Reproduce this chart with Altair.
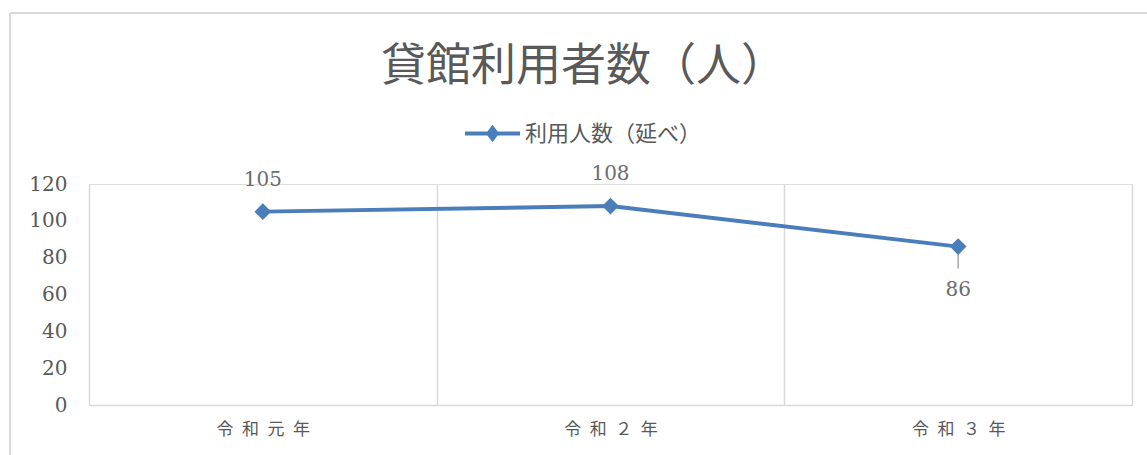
import altair as alt
import pandas as pd

categories = ["令和元年", "令和２年", "令和３年"]
values = [105, 108, 86]
series_name = "利用人数（延べ）"
title_text = "貸館利用者数（人）"
y_ticks = [0, 20, 40, 60, 80, 100, 120]

df = pd.DataFrame({"category": categories, "value": values, "series": [series_name] * 3})

W, H = 1043, 221
BLUE = "#4A7EBB"
GRAY = "#595959"
LINE = "#d9d9d9"

base = alt.Chart(df)

x_enc = alt.X(
    "category:N",
    sort=categories,
    scale=alt.Scale(type="band", paddingInner=0, paddingOuter=0),
    axis=alt.Axis(
        title=None, labelAngle=0, ticks=False, grid=True, tickBand="extent",
        gridColor=LINE, gridWidth=1.5, domainColor=LINE, domainWidth=1.5,
        labelFont="Noto Sans CJK JP", labelFontSize=17, labelColor=GRAY,
        labelPadding=16, labelExpr="join(split(datum.label, ''), '\u2002')",
    ),
)
y_enc = alt.Y(
    "value:Q",
    scale=alt.Scale(domain=[0, 120]),
    axis=alt.Axis(
        title=None, values=y_ticks, domain=False, ticks=False, grid=False,
        labelFont="DejaVu Serif", labelFontSize=20, labelColor=GRAY,
        labelPadding=22, labelOverlap=False,
    ),
)
color_enc = alt.Color(
    "series:N",
    scale=alt.Scale(range=[BLUE]),
    legend=alt.Legend(
        title=None, orient="none", legendX=374, legendY=-80, padding=0,
        symbolType="M-1,0L1,0M0,-0.2L0.15,0L0,0.2L-0.15,0Z",
        symbolSize=3025, symbolStrokeWidth=4, symbolStrokeColor=BLUE,
        symbolFillColor=BLUE, labelFont="Noto Sans CJK JP", labelFontSize=22,
        labelColor=GRAY, labelOffset=3, labelLimit=0,
    ),
)

line = base.mark_line(strokeWidth=4).encode(x=x_enc, y=y_enc, color=color_enc)
pts = base.mark_point(shape="diamond", size=280, filled=True, opacity=1, color=BLUE).encode(
    x=x_enc, y=y_enc
)

lab_up = base.transform_filter(
    alt.FieldOneOfPredicate(field="category", oneOf=categories[:2])
).mark_text(font="DejaVu Serif", fontSize=20, color="#6d6d6d", dy=-32).encode(
    x=x_enc, y=y_enc, text="value:Q"
)
lab_down = base.transform_filter(
    alt.FieldOneOfPredicate(field="category", oneOf=categories[2:])
).mark_text(font="DejaVu Serif", fontSize=20, color="#6d6d6d", dy=43).encode(
    x=x_enc, y=y_enc, text="value:Q"
)
leader = base.transform_filter(
    alt.FieldOneOfPredicate(field="category", oneOf=categories[2:])
).mark_rule(color="#a6a6a6", strokeWidth=1.5, yOffset=4, y2Offset=22).encode(
    x=x_enc, y=y_enc, y2="value:Q"
)

border_left = alt.Chart(df).mark_rule(color=LINE, strokeWidth=1.5).encode(
    x=alt.value(-79), y=alt.value(-171), y2=alt.value(272)
)
border_top = alt.Chart(df).mark_rule(color=LINE, strokeWidth=1.5).encode(
    x=alt.value(-79), x2=alt.value(1060), y=alt.value(-171)
)

chart = alt.layer(border_left, border_top, line, leader, pts, lab_up, lab_down).properties(
    width=W, height=H,
    title=alt.TitleParams(
        title_text, anchor="middle", font="Noto Sans CJK JP", fontSize=45,
        fontWeight="normal", color=GRAY, dx=-27, offset=-78,
    ),
    autosize=alt.AutoSizeParams(type="none"),
    padding={"left": 89, "top": 184, "right": 15, "bottom": 50},
).configure_view(stroke=None).configure_axisY(labelOverlap=False).configure(background="white")

chart.save("out.html", embed_options={"renderer": "svg", "actions": False})
